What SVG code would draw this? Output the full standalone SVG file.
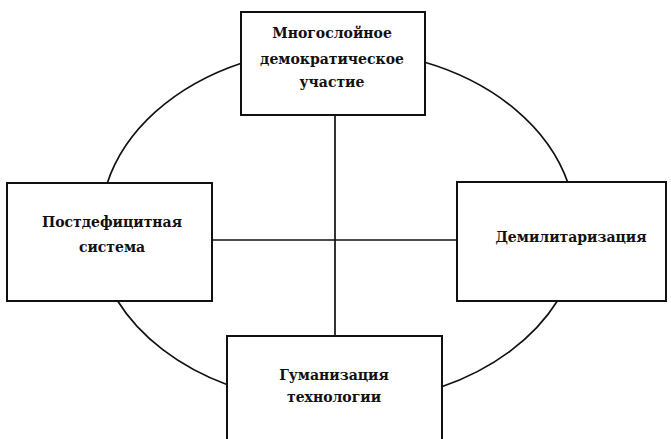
<svg xmlns="http://www.w3.org/2000/svg" width="671" height="439" viewBox="0 0 671 439">
<style>
.box{fill:#fff;stroke:#111;stroke-width:2}
.ln{fill:none;stroke:#111;stroke-width:1.7}
.t{font-family:"DejaVu Serif","Liberation Serif",serif;font-size:14px;font-weight:bold;fill:#111;text-anchor:middle}
</style>
<rect width="671" height="439" fill="#fff"/>
<g id="connectors">
<path class="ln" d="M107,184 A238,178 0 0 1 242,63"/>
<path class="ln" d="M424,62 A238,178 0 0 1 568,183"/>
<path class="ln" d="M558,300 A238,178 0 0 1 441,387"/>
<path class="ln" d="M228,385 A238,178 0 0 1 117,300"/>
<line class="ln" x1="335" y1="115" x2="335" y2="336"/>
<line class="ln" x1="212" y1="240" x2="457" y2="240"/>
</g>
<g id="node-top">
<rect class="box" x="241" y="12" width="184" height="103"/>
<text class="t" x="332" y="38">Многослойное</text>
<text class="t" x="332" y="64">демократическое</text>
<text class="t" x="332" y="87">участие</text>
</g>
<g id="node-left">
<rect class="box" x="7" y="183" width="205" height="118"/>
<text class="t" x="112" y="227">Постдефицитная</text>
<text class="t" x="112" y="252">система</text>
</g>
<g id="node-right">
<rect class="box" x="457" y="182" width="209" height="119"/>
<text class="t" x="571" y="242">Демилитаризация</text>
</g>
<g id="node-bottom">
<rect class="box" x="227" y="336" width="215" height="110"/>
<text class="t" x="334" y="380">Гуманизация</text>
<text class="t" x="334" y="402">технологии</text>
</g>
</svg>
